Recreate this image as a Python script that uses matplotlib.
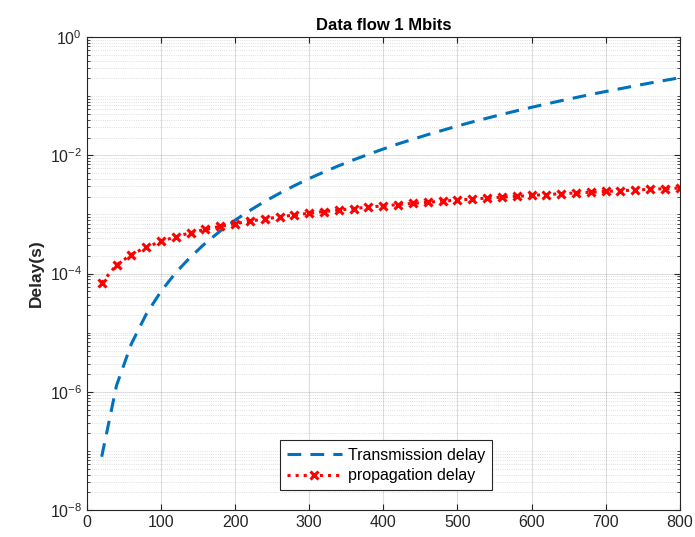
import matplotlib
matplotlib.use("Agg")
import matplotlib.pyplot as plt
from matplotlib.ticker import FixedLocator, FixedFormatter, NullFormatter

plt.rcParams['font.family'] = ['Liberation Sans', 'DejaVu Sans']
plt.rcParams['mathtext.fontset'] = 'custom'
plt.rcParams['mathtext.rm'] = 'Liberation Sans'
plt.rcParams['mathtext.default'] = 'regular'

x_vals = [20, 40, 60, 80, 100, 120, 140, 160, 180, 200,
          220, 240, 260, 280, 300, 320, 340, 360, 380, 400,
          420, 440, 460, 480, 500, 520, 540, 560, 580, 600,
          620, 640, 660, 680, 700, 720, 740, 760, 780, 800]

transmission_delay = [8.0e-8, 1.28e-6, 6.48e-6, 2.05e-5, 5.0e-5, 1.04e-4, 1.92e-4, 3.28e-4, 5.25e-4, 8.0e-4,
                      1.17e-3, 1.66e-3, 2.28e-3, 3.07e-3, 4.05e-3, 5.24e-3, 6.68e-3, 8.40e-3, 1.04e-2, 1.28e-2,
                      1.56e-2, 1.87e-2, 2.24e-2, 2.65e-2, 3.13e-2, 3.66e-2, 4.25e-2, 4.92e-2, 5.66e-2, 6.48e-2,
                      7.39e-2, 8.39e-2, 9.49e-2, 1.07e-1, 1.20e-1, 1.34e-1, 1.50e-1, 1.67e-1, 1.85e-1, 2.05e-1]

propagation_delay = [7.0e-5, 1.4e-4, 2.1e-4, 2.8e-4, 3.5e-4, 4.2e-4, 4.9e-4, 5.6e-4, 6.3e-4, 7.0e-4,
                     7.7e-4, 8.4e-4, 9.1e-4, 9.8e-4, 1.05e-3, 1.12e-3, 1.19e-3, 1.26e-3, 1.33e-3, 1.40e-3,
                     1.47e-3, 1.54e-3, 1.61e-3, 1.68e-3, 1.75e-3, 1.82e-3, 1.89e-3, 1.96e-3, 2.03e-3, 2.10e-3,
                     2.17e-3, 2.24e-3, 2.31e-3, 2.38e-3, 2.45e-3, 2.52e-3, 2.59e-3, 2.66e-3, 2.73e-3, 2.80e-3]

x_ticks = [0, 100, 200, 300, 400, 500, 600, 700, 800]
y_major = [1e-8, 1e-6, 1e-4, 1e-2, 1e0]
y_labels = ['10$^{-8}$', '10$^{-6}$', '10$^{-4}$', '10$^{-2}$', '10$^{0}$']

fig = plt.figure(figsize=(6.95, 5.37), dpi=100)
ax = fig.add_axes([0.125, 0.050, 0.853, 0.881])

ax.plot(x_vals, transmission_delay, linestyle=(0, (4.5, 3.0)), color='#0072BD', linewidth=2.2,
        label='Transmission delay')
ax.plot(x_vals, propagation_delay, linestyle=':', color='red', linewidth=2.2, marker='x',
        markersize=6, markeredgewidth=2.2, label='propagation delay')

ax.set_yscale('log')
ax.set_xlim(0, 800)
ax.set_ylim(1e-8, 1e0)

ax.xaxis.set_major_locator(FixedLocator(x_ticks))
ax.yaxis.set_major_locator(FixedLocator(y_major))
ax.yaxis.set_major_formatter(FixedFormatter(y_labels))
minor = []
for e in range(-8, 0):
    for m in range(1, 10):
        v = m * 10.0 ** e
        if v not in y_major:
            minor.append(v)
ax.yaxis.set_minor_locator(FixedLocator(minor))
ax.yaxis.set_minor_formatter(NullFormatter())

ax.grid(True, which='major', color='#262626', alpha=0.15, linewidth=0.8, linestyle='-')
ax.grid(True, which='minor', axis='y', color='#262626', alpha=0.2, linewidth=0.6, linestyle=':')
ax.set_axisbelow(True)

ax.tick_params(axis='both', which='both', direction='in', colors='#262626', labelsize=11.5,
               top=True, right=True)
ax.tick_params(axis='both', which='major', length=4)
ax.tick_params(axis='y', which='minor', length=2)
for s in ax.spines.values():
    s.set_color('#262626')
    s.set_linewidth(0.8)

ax.set_title('Data flow 1 Mbits', fontsize=12, fontweight='bold', color='black', pad=5)
ax.set_ylabel('Delay(s)', fontsize=12.5, fontweight='bold', color='#262626', labelpad=4)

leg = ax.legend(loc='lower center', bbox_to_anchor=(0.505, 0.025), fontsize=11.5, frameon=True,
                fancybox=False, edgecolor='#262626', framealpha=1, handlelength=3.4,
                borderpad=0.45, labelspacing=0.35, handletextpad=0.4)
leg.get_frame().set_linewidth(0.8)

fig.savefig('out.png', dpi=100)
